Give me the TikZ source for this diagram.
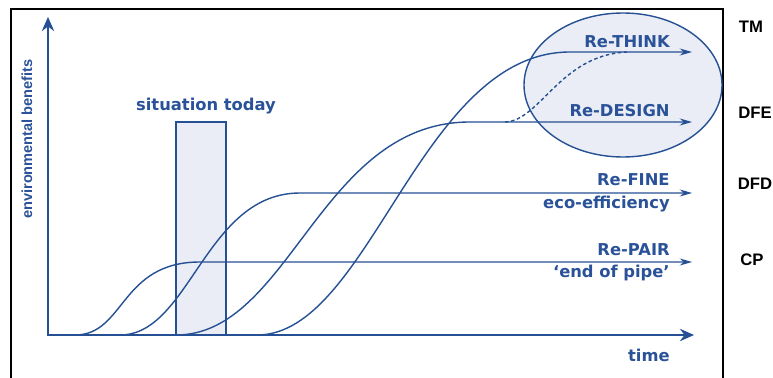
\documentclass[tikz,border=0pt]{standalone}
\usepackage{fontspec}
\newfontfamily\labelfont{DejaVu Sans}
\newfontfamily\tagfont{Liberation Sans}
\usetikzlibrary{arrows.meta, positioning, calc}

\definecolor{chartblue}{RGB}{38,80,148}
\definecolor{textblue}{RGB}{42,82,152}
\definecolor{boxfill}{RGB}{234,237,245}

\tikzset{
  axis/.style={chartblue, line width=1.7pt, line join=miter},
  trend/.style={chartblue, line width=0.8pt, -{Stealth[length=7pt, width=4pt]}},
  bluetext/.style={textblue, font=\labelfont\bfseries\fontsize{9.3}{10}\selectfont, inner sep=0pt},
  tagtext/.style={font=\tagfont\bfseries\fontsize{9.5}{11}\selectfont, inner sep=0pt},
}

\begin{document}
\begin{tikzpicture}[x=0.02cm, y=-0.02cm]
        \useasboundingbox (0,0) rectangle (773,378);

        % Рамка
        \draw[line width=0.6pt] (11,380) -- (11,9) -- (723,9) -- (723,380);

        % Область будущего
        \filldraw[fill=boxfill, draw=chartblue, line width=0.8pt] (623,85) ellipse [x radius=99, y radius=72];

        % Ситуация сегодня
        \filldraw[fill=boxfill, draw=chartblue, line width=0.8pt] (176,122) rectangle (226,335);
        \node[bluetext] (today) at (206,106) {situation today};

        % Оси
        \coordinate (origin) at (48,335);
        \coordinate (ytop) at (48,17);
        \coordinate (xend) at (694,335);
        \draw[axis, {Stealth[length=8pt, width=7pt]}-{Stealth[length=8pt, width=7pt]}] (ytop) -- (origin) -- (xend);

        % S-кривые
        \foreach \sx/\ax/\bx/\ex/\ly in {75/125/120/200/262, 120/190/205/300/193, 176/290/320/470/122, 257/370/420/570/52} {
            \draw[trend] (\sx,335) .. controls (\ax,335) and (\bx,\ly) .. (\ex,\ly) -- (692,\ly);
        }

        % Переход Re-DESIGN -> Re-THINK
        \draw[chartblue, line width=0.8pt, dash pattern=on 2pt off 1.5pt] (505,122) .. controls (540,121) and (560,55) .. (627,52);

        % Подписи
        \node[bluetext, anchor=east] (think) at (670,42) {Re-THINK};
        \node[bluetext, anchor=east] (design) at (670,111) {Re-DESIGN};
        \node[bluetext, anchor=east] (refine) at (670,180) {Re-FINE};
        \node[bluetext, anchor=east] (eco) at (670,204) {eco-efficiency};
        \node[bluetext, anchor=east] (repair) at (670,250) {Re-PAIR};
        \node[bluetext, anchor=east] (pipe) at (670,273) {‘end of pipe’};
        \node[bluetext, anchor=east] (time) at (670,355) {time};
        \node[textblue, inner sep=0pt, rotate=90, font=\tagfont\bfseries\fontsize{8.3}{10}\selectfont] (benefits) at (27,139) {environmental benefits};

        % Уровни
        \node[tagtext] (tm) at (751,27) {TM};
        \node[tagtext] (dfe) at (755,113) {DFE};
        \node[tagtext] (dfd) at (755,184) {DFD};
        \node[tagtext] (cp) at (752,260) {CP};
\end{tikzpicture}
\end{document}
